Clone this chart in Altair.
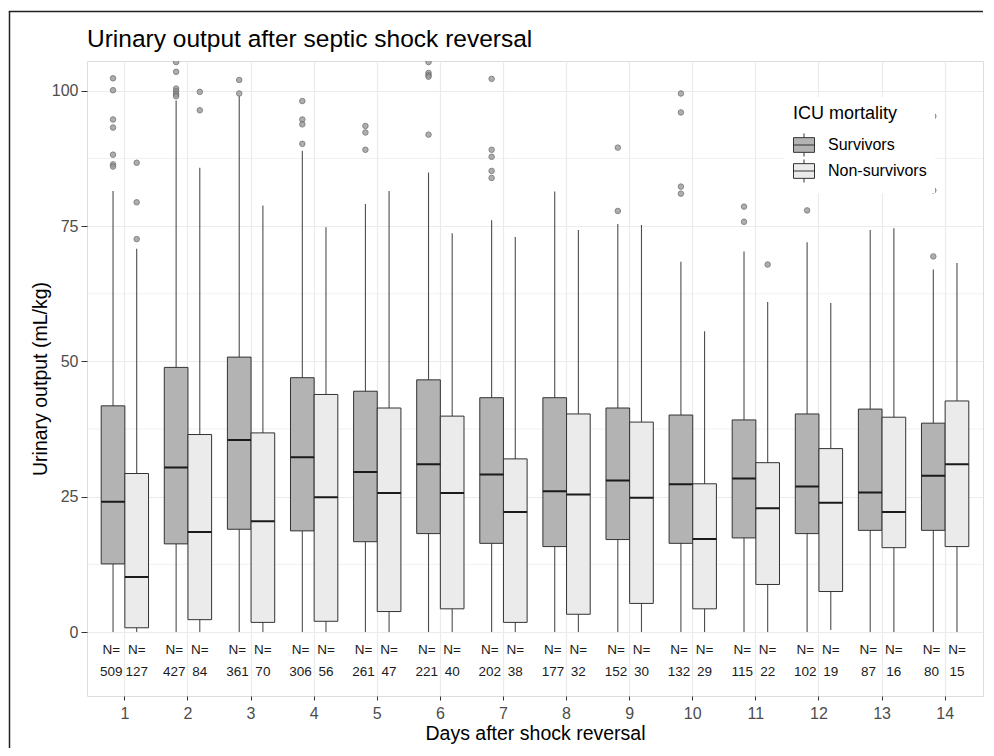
import altair as alt
import pandas as pd

# ---------------- data ----------------
days = [1, 2, 3, 4, 5, 6, 7, 8, 9, 10, 11, 12, 13, 14]
groups = ["Survivors", "Non-survivors"]

surv_lo = [0, 0, 0, 0, 0, 0, 0, 0, 0, 0, 0, 0, 0, 0]
surv_q1 = [12.6, 16.3, 19.0, 18.7, 16.7, 18.2, 16.4, 15.8, 17.1, 16.4, 17.4, 18.2, 18.8, 18.8]
surv_med = [24.1, 30.4, 35.5, 32.3, 29.6, 31.0, 29.1, 26.0, 28.0, 27.3, 28.4, 26.9, 25.8, 28.9]
surv_q3 = [41.8, 48.9, 50.8, 47.0, 44.5, 46.6, 43.3, 43.3, 41.4, 40.1, 39.2, 40.3, 41.2, 38.6]
surv_hi = [81.5, 98.2, 99.0, 88.9, 79.1, 84.9, 76.1, 81.4, 75.4, 68.4, 70.3, 72.0, 74.3, 67.0]
surv_n = [509, 427, 361, 306, 261, 221, 202, 177, 152, 132, 115, 102, 87, 80]

non_lo = [0, 0, 0, 0, 0, 0, 0, 0, 0, 0, 0, 0.4, 0, 0]
non_q1 = [0.8, 2.3, 1.8, 2.0, 3.8, 4.3, 1.8, 3.3, 5.3, 4.3, 8.8, 7.5, 15.6, 15.8]
non_med = [10.2, 18.5, 20.5, 24.9, 25.7, 25.7, 22.2, 25.4, 24.8, 17.2, 22.9, 23.9, 22.2, 31.0]
non_q3 = [29.3, 36.5, 36.8, 43.9, 41.4, 39.9, 32.0, 40.3, 38.8, 27.4, 31.3, 33.9, 39.7, 42.7]
non_hi = [70.8, 85.8, 78.8, 74.8, 81.5, 73.7, 73.0, 74.3, 75.2, 55.6, 61.0, 60.8, 74.6, 68.2]
non_n = [127, 84, 70, 56, 47, 40, 38, 32, 30, 29, 22, 19, 16, 15]

surv_out_day = [1, 1, 1, 1, 1, 1, 1,
                2, 2, 2, 2, 2, 2,
                3, 3,
                4, 4, 4, 4,
                5, 5, 5,
                6, 6, 6, 6, 6,
                7, 7, 7, 7, 7,
                9, 9,
                10, 10, 10, 10,
                11, 11,
                12,
                14, 14, 14]
surv_out_val = [102.3, 100.1, 94.7, 93.2, 88.2, 86.4, 86.0,
                105.3, 103.5, 100.4, 99.9, 99.4, 99.0,
                102.0, 99.5,
                98.1, 94.7, 93.8, 90.2,
                93.5, 92.3, 89.1,
                105.3, 103.3, 102.9, 102.6, 91.9,
                102.2, 89.1, 87.8, 85.2, 83.9,
                89.5, 77.8,
                99.5, 96.0, 82.3, 81.0,
                78.6, 75.8,
                77.9,
                95.3, 81.6, 69.4]
non_out_day = [1, 1, 1, 2, 2, 11]
non_out_val = [86.7, 79.4, 72.6, 99.8, 96.4, 67.9]

y_ticks = [0, 25, 50, 75, 100]
y_minor = [12.5, 37.5, 62.5, 87.5]

# ---------------- tables ----------------
box_rows = []
for i, d in enumerate(days):
    box_rows.append(dict(day=d, group=groups[0], lo=surv_lo[i], q1=surv_q1[i], med=surv_med[i],
                         q3=surv_q3[i], hi=surv_hi[i], n=surv_n[i]))
    box_rows.append(dict(day=d, group=groups[1], lo=non_lo[i], q1=non_q1[i], med=non_med[i],
                         q3=non_q3[i], hi=non_hi[i], n=non_n[i]))
box_df = pd.DataFrame(box_rows)

out_df = pd.DataFrame(
    [dict(day=d, group=groups[0], v=v) for d, v in zip(surv_out_day, surv_out_val)]
    + [dict(day=d, group=groups[1], v=v) for d, v in zip(non_out_day, non_out_val)]
)
minor_df = pd.DataFrame({"v": y_minor})

# ---------------- scales / encodings ----------------
FONT = "Liberation Sans"
y_scale = alt.Scale(domain=[-11.8, 105.5], nice=False, zero=False)
x_scale = alt.Scale(paddingInner=0.25, paddingOuter=0.225)
off_scale = alt.Scale(domain=groups, paddingInner=0, paddingOuter=0)

x_enc = alt.X(
    "day:O", scale=x_scale, sort=days,
    axis=alt.Axis(
        title="Days after shock reversal", labelAngle=0, labelFontSize=16,
        labelColor="#4d4d4d", labelFont=FONT, tickColor="#333333", tickSize=4,
        labelPadding=5, domain=False, grid=True, gridColor="#ebebeb", gridWidth=1.2,
        titleFontSize=19.5, titleFontWeight="normal", titleColor="black", titleFont=FONT,
        titlePadding=3,
    ),
)
xo_enc = alt.XOffset("group:N", scale=off_scale, sort=groups)

y_axis = alt.Axis(
    values=y_ticks, title="Urinary output (mL/kg)", labelFontSize=16,
    labelColor="#4d4d4d", labelFont=FONT, tickColor="#333333", tickSize=6,
    labelPadding=3, domain=False, grid=True, gridColor="#ebebeb", gridWidth=1.2,
    titleFontSize=19.5, titleFontWeight="normal", titleColor="black", titleFont=FONT,
    titlePadding=1,
)


def y_enc(field):
    return alt.Y(field, scale=y_scale, axis=y_axis)


legend_symbol = "M-1,-0.7H1V0.7H-1Z M-1,0H1 M0,-1.1V-0.7 M0,0.7V1.1"

minor = alt.Chart(minor_df).mark_rule(color="#ebebeb", strokeWidth=0.7).encode(
    y=y_enc("v:Q")
)

whisk = alt.Chart(box_df).mark_rule(color="#4d4d4d", strokeWidth=1.1).encode(
    x=x_enc, xOffset=xo_enc, y=y_enc("lo:Q"), y2="hi:Q"
)

boxes = alt.Chart(box_df).mark_bar(stroke="#333333", strokeWidth=1, opacity=1).encode(
    x=x_enc, xOffset=xo_enc, y=y_enc("q1:Q"), y2="q3:Q",
    fill=alt.Fill(
        "group:N", sort=groups,
        scale=alt.Scale(domain=groups, range=["#b3b3b3", "#ebebeb"]),
        legend=alt.Legend(
            title="ICU mortality", orient="none", legendX=698, legendY=36,
            symbolType=legend_symbol, symbolSize=441, symbolStrokeColor="#333333",
            symbolStrokeWidth=1, symbolOpacity=1,
            titleFontSize=18, titleFontWeight="normal", titleColor="black", titleFont=FONT,
            labelFontSize=16, labelColor="black", labelFont=FONT,
            fillColor="white", padding=8, rowPadding=-2, labelOffset=13, titlePadding=11,
        ),
    ),
)

medians = alt.Chart(box_df).mark_bar(
    fillOpacity=0, stroke="#1a1a1a", strokeWidth=2
).encode(x=x_enc, xOffset=xo_enc, y=y_enc("med:Q"), y2="med:Q")

outliers = alt.Chart(out_df).mark_point(
    filled=True, fill="#9a9a9a", stroke="#666666", strokeWidth=1, size=30, opacity=0.8, clip=True
).encode(x=x_enc, xOffset=xo_enc, y=y_enc("v:Q"))


def n_layers(group, dx):
    base = alt.Chart(box_df).transform_filter(alt.datum.group == group)
    head = base.mark_text(
        fontSize=13.5, font=FONT, color="#1a1a1a", baseline="middle", dx=dx
    ).encode(x=x_enc, xOffset=xo_enc, y=alt.datum(-3.25), text=alt.value("N="))
    vals = base.mark_text(
        fontSize=13.5, font=FONT, color="#1a1a1a", baseline="middle", dx=dx
    ).encode(x=x_enc, xOffset=xo_enc, y=alt.datum(-7.4), text="n:Q")
    return [head, vals]


n_text = n_layers(groups[0], -1.8) + n_layers(groups[1], 0)

# outer figure frame: its left edge and its top edge (as a thin filled strip)
frame_left = alt.Chart(alt.Data(values=[{}])).mark_rule(
    color="#222222", strokeWidth=1.5
).encode(x=alt.value(-77.5), y=alt.value(-49.5), y2=alt.value(687))
frame_top = alt.Chart(alt.Data(values=[{}])).mark_rect(
    fill="#222222", strokeWidth=0
).encode(x=alt.value(-78.25), x2=alt.value(896), y=alt.value(-50.25), y2=alt.value(-48.75))

chart = (
    alt.layer(minor, whisk, boxes, medians, outliers, *n_text, frame_left, frame_top)
    .properties(
        width=896,
        height=635,
        title=alt.TitleParams(
            "Urinary output after septic shock reversal", anchor="start", frame="group",
            fontSize=24.5, fontWeight="normal", color="black", font=FONT, offset=-42,
        ),
        autosize=alt.AutoSizeParams(type="none"),
        padding={"left": 79, "top": 53, "right": 3, "bottom": 52},
    )
    .configure_view(stroke="#333333", strokeWidth=1.2)
    .configure(background="white", font=FONT)
)

chart.save("out.html", embed_options={"renderer": "svg", "actions": False})
